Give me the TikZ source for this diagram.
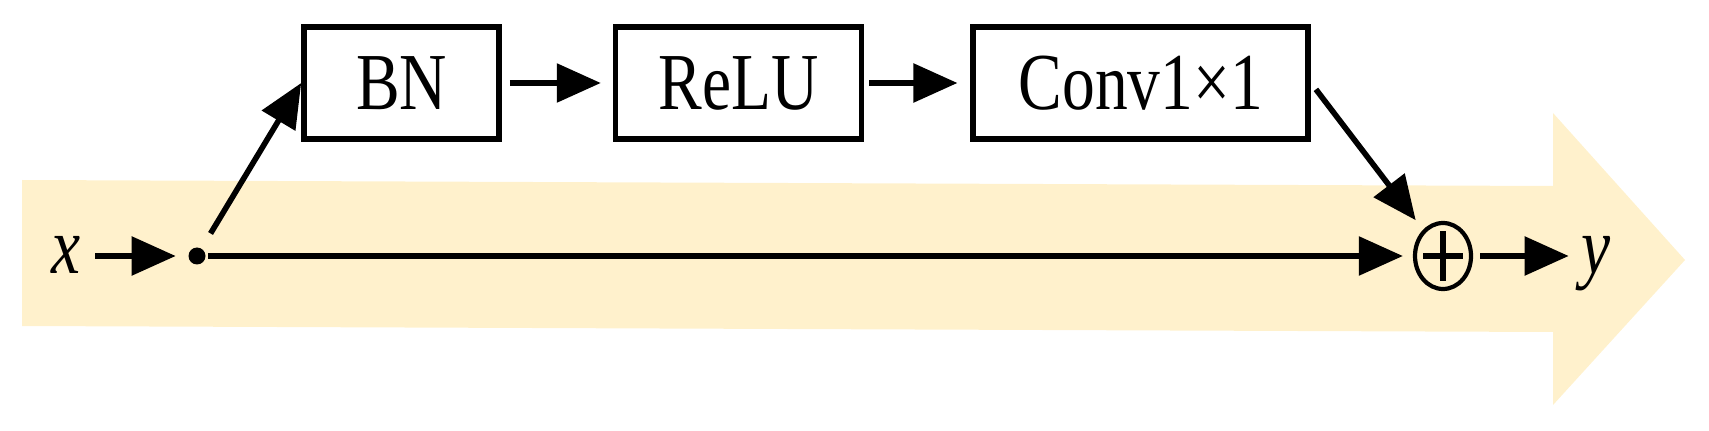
\documentclass[tikz,border=0pt]{standalone}
\usepackage{fontspec}
\usepackage{tikz}
\usetikzlibrary{arrows.meta, positioning, shapes.geometric}
\newfontfamily\blockfont[FakeStretch=0.81]{Liberation Serif}
\definecolor{bandYellow}{HTML}{FFF1CC}

\begin{document}
\begin{tikzpicture}[
    line width=1.6pt,
    layer/.style={rectangle, draw, minimum height=1.12cm, inner sep=0pt,
                  font=\blockfont\fontsize{23}{27}\selectfont},
    sig/.style={inner sep=0pt, anchor=base, font=\blockfont\itshape\fontsize{23}{27}\selectfont},
    arr/.style={-{Triangle[length=0.44cm, width=0.38cm]}},
    addop/.style={ellipse, draw, line width=1.2pt, minimum width=0.56cm,
                  minimum height=0.66cm, inner sep=0pt,
                  path picture={
                    \draw[line width=1.6pt] ([xshift=-0.2cm]path picture bounding box.center) -- ++(0.4cm,0);
                    \draw[line width=1.6pt] ([yshift=-0.25cm]path picture bounding box.center) -- ++(0,0.5cm);
                  }},
  ]
    \useasboundingbox (0,0) rectangle (17.09,4.30);
    \fill[bandYellow] (0.22,2.50) -- (15.53,2.44) -- (15.53,3.17) -- (16.85,1.70)
      -- (15.53,0.25) -- (15.53,0.98) -- (0.22,1.04) -- cycle;

    \node[layer, minimum width=1.95cm] (bn) at (4.015,3.47) {BN};
    \node[layer, minimum width=2.46cm, right=1.11cm of bn] (relu) {ReLU};
    \node[layer, minimum width=3.35cm, right=1.06cm of relu] (conv) {Conv1\texttimes1};

    \node[sig] (xin) at (0.66,1.56) {x};
    \node[circle, fill, minimum size=0.17cm, inner sep=0pt] (split) at (1.97,1.74) {};
    \node[addop] (plus) at (14.43,1.74) {};
    \node[sig] (yout) at (15.96,1.56) {y};

    \draw[arr, shorten <=0.12cm, shorten >=0.1cm] (xin.east |- split) -- (split);
    \draw[arr, shorten <=0.15cm] (split) -- (bn.west);
    \draw[arr, shorten <=0.08cm, shorten >=0.12cm] (bn) -- (relu);
    \draw[arr, shorten <=0.05cm, shorten >=0.13cm] (relu) -- (conv);
    \draw[arr, shorten <=0.08cm, shorten >=0.12cm] (conv.east) -- (plus);
    \draw[arr, shorten >=0.1cm] (split) -- (plus);
    \draw[arr, shorten <=0.07cm, shorten >=0.1cm] (plus) -- (yout.west |- plus);
  \end{tikzpicture}
\end{document}
